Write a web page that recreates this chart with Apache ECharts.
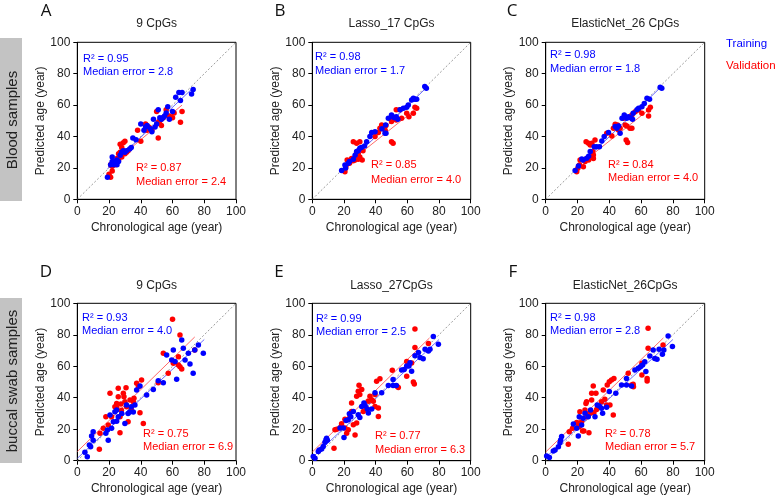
<!DOCTYPE html>
<html>
<head>
<meta charset="utf-8">
<script src="https://cdn.jsdelivr.net/npm/echarts@6/dist/echarts.min.js"></script>
<style>html,body{margin:0;padding:0;background:#fff;}#c{width:778px;height:498px;}</style>
</head>
<body>
<div id="c"></div>
<script>
// ---------- DATA ----------
const panelLetters = ['A','B','C','D','E','F'];
const panelTitles = ['9 CpGs','Lasso_17 CpGs','ElasticNet_26 CpGs','9 CpGs','Lasso_27CpGs','ElasticNet_26CpGs'];
const rowLabels = ['Blood samples','buccal swab samples'];
const legendLabels = ['Training','Validation'];
const trainR2 = ['0.95','0.98','0.98','0.93','0.99','0.98'];
const trainMedErr = ['2.8','1.7','1.8','4.0','2.5','2.8'];
const valR2 = ['0.87','0.85','0.84','0.75','0.77','0.78'];
const valMedErr = ['2.4','4.0','4.0','6.9','6.3','5.7'];
const axisTicks = [0,20,40,60,80,100];
const diag = [[0,0],[100,100]];

const aTrain = [[19,14],[21,22],[22,24],[22,27],[23,22],[24,24],[25,22],[25,25],[26,24],[27,28],[28,30],[29,31],[30,30],[31,31],[33,32],[34,33],[35,39],[37,38],[40,48],[42,44],[43,46],[44,47],[46,45],[47,43],[48,51],[49,46],[50,48],[51,57],[52,52],[53,51],[54,52],[55,53],[56,55],[57,59],[58,51],[60,56],[62,65],[64,68],[65,63],[66,68],[72,67],[73,70]];
const aVal = [[20,16],[21,14],[21,22],[22,21],[22,18],[23,23],[24,22],[25,26],[26,25],[26,29],[27,35],[27,30],[28,27],[28,33],[29,36],[29,31],[30,29],[30,37],[31,30],[32,31],[38,44],[40,37],[43,48],[44,44],[45,46],[46,45],[47,44],[50,56],[51,39],[51,49],[52,50],[53,47],[54,52],[56,57],[58,53],[60,52],[61,55],[65,49],[66,56]];
const aTrainFit = [[19,19.5],[73,71]];
const aValFit = [[20,21],[66,60]];

const bTrain = [[18.5,18.3],[20.6,21.9],[21,20],[22.7,23],[23.5,24],[25.9,25.5],[27,28],[28,30.4],[29,31],[30,32.5],[31,33],[33,34],[34.3,36.7],[36.4,40],[37.5,42.5],[39.6,43],[44,45],[45.9,42],[46.3,47.3],[46.5,42],[48,51.6],[50,53.7],[51,52.5],[52,52],[53,52.6],[54,51],[55.4,57],[57.5,58],[59.6,58.6],[60.6,60],[62.7,63.3],[63.8,64.3],[64.8,63.8],[65.9,63.7],[71,71.8],[72,70.7]];
const bVal = [[20.6,17.6],[21,19.7],[21.3,21.4],[22,25],[23.5,23],[24.8,26],[25.9,24.5],[27,25],[25.9,36.7],[28,35.7],[30,36.7],[28,30],[29,29],[30,27],[29,25.5],[31.5,25],[32,31],[39.6,40],[41.7,42.5],[42.7,45.2],[43.8,47.3],[45,45],[46,44],[46.5,47],[50,49.5],[50,36.7],[51,35.7],[53,50.5],[53,57],[55.4,57],[56.4,51.6],[59.6,54.8],[61,52.6],[63.8,54.8],[64.8,58.6],[65.9,58]];
const bTrainFit = [[18,18.5],[73,72]];
const bValFit = [[20,21],[66,58]];

const cTrain = [[18.5,18.3],[20.6,21.2],[22.7,25.7],[23.5,25],[25.8,26.1],[27,27.5],[28,30.4],[30.5,33.5],[32,33.5],[33.8,33.5],[35.3,37.2],[36.8,40],[39.5,42.5],[43.7,46.3],[44.8,45.2],[45.8,46.7],[46.8,42],[48,51.6],[49.4,53.7],[51,51.6],[52,52.6],[53.4,52],[54.6,51],[55,54.8],[57.4,57],[58.4,58],[60.5,59],[62,61],[63.7,64.3],[65.3,63.7],[72,71.3],[73,70.7]];
const cVal = [[19.5,17.6],[20.2,19.7],[21.2,21.9],[21.6,25],[23.7,20.8],[24.8,24],[25.8,26],[25.4,36.7],[26.9,35.7],[28,34.6],[29,35.7],[29.6,30.4],[30,28.2],[30,26],[31,37.8],[27,25],[38.4,42],[41.6,40.3],[42.6,45.2],[43.7,47.8],[45.2,47.3],[45.8,44.2],[46.8,45.2],[49,51.6],[50,47.3],[51,46.7],[50.6,37.8],[51.5,36.1],[53,45.2],[54.2,45.2],[54.2,53.7],[56.3,55.8],[58.4,56.9],[60.5,54.8],[64.7,56.9],[65.8,58.6],[64.7,53.1]];
const cTrainFit = [[18,18.5],[73,72]];
const cValFit = [[20,21],[66,58]];

const dTrain = [[4.8,5.3],[6.3,2.5],[7.6,10],[8.4,8.9],[9,15.7],[10,18.4],[10,13],[18,17.4],[19,19.5],[19.5,13],[20.6,29],[21.6,20.6],[22.7,24.8],[23.7,31.1],[24.8,32.2],[24.8,25],[25.8,28],[28,30],[30,23.7],[31,35.4],[32,30],[33,31],[34,34.3],[35.3,31],[36.3,35.4],[37.4,44.9],[39.5,47.5],[43.7,41.7],[47.9,45.3],[51,50.8],[54.2,49.6],[56.3,67.2],[59.5,64],[60.5,70.3],[62.6,51.7],[61.6,63],[65.8,76.7],[66.8,71.4],[67.9,64],[70,68.2],[71,61.4],[73,55.5],[74,70.3],[76.3,73.5],[79.4,68.2]];
const dVal = [[13.9,7.2],[14.3,17.4],[16.4,20.6],[18,28],[19.5,22.7],[20.6,42.8],[21.6,28],[23.7,34.3],[24.8,36.4],[24.8,34],[25.8,40.7],[25.8,46],[26.9,28],[26.9,17.8],[27.5,36],[27.8,32],[29,42.8],[29.4,40.7],[30,37.5],[30.7,46.4],[31,34.3],[32,24.8],[33.2,38.5],[34,33],[35.3,37.5],[35.7,39.6],[37.4,49.2],[38.5,47],[39.5,30.5],[40.5,51.3],[41.6,23.7],[51,49.6],[54.2,68.2],[57.3,55.5],[60,89.8],[60.5,61.9],[63.7,66.1],[63.7,60.8],[64.7,79.9],[64.7,59.7],[65.8,58.3],[74,70.3]];
const dTrainFit = [[0,1.5],[80,77]];
const dValFit = [[0,5.8],[74,78.6]];

const eTrain = [[0.6,2.6],[1.7,1.5],[3.8,5.8],[4.4,6.8],[5.9,7.5],[6.9,9],[8,11.7],[8.6,13.2],[9,14.3],[9.5,13],[17.5,20.7],[19.6,20.7],[20,14.7],[21.3,25.6],[22.7,26],[23.4,29.9],[24.3,28],[25.9,31.3],[29,29.2],[30,27.5],[31.2,34.5],[32.6,36.7],[33.3,35],[34.7,32.8],[35.4,30.3],[37.5,32.8],[39.6,43.1],[43.8,43.1],[48,47.8],[51,47.8],[51,51.6],[53,47.8],[56.4,57.6],[58,58],[59.6,60.1],[61,60.1],[61.7,62.3],[62.7,56.9],[64.8,66.7],[67,68.7],[68,65.5],[70,64.8],[71.2,70.8],[73.3,69.7],[74.3,70.8],[76.4,78.9],[79.6,74]];
const eVal = [[13.7,7.9],[14.3,19.6],[15.4,20],[17.5,21],[18.5,23.5],[20.6,20.7],[20.6,26.4],[21.7,17.5],[22.7,19.6],[23.8,28.1],[24.8,31.3],[24.8,36.7],[25.9,22.8],[27,16.4],[28,23.9],[28,41],[29,44.1],[29.5,48],[30,42],[31.2,45.2],[32.2,31.3],[34,33.5],[35.4,37.7],[36.4,41],[37.5,38.8],[38.5,37.7],[39.6,42],[40.6,50.5],[41.7,33.5],[42.7,52],[41.7,28.1],[39.6,34.5],[50.5,57.5],[53.3,47.5],[54.3,46.5],[59.6,63],[59.6,53.7],[62.7,62],[63.8,50],[64.4,48.8],[64.8,83.6],[64.8,71.9],[73.3,74.5]];
const eTrainFit = [[0,2],[80,77]];
const eValFit = [[0,5.5],[74,78]];

const fTrain = [[0.6,3],[2.3,2.1],[4.8,6.1],[5.9,6.8],[8,8.9],[9,11.4],[9.4,13.1],[10,15.3],[17.4,23.3],[19.5,20.6],[20.5,15.7],[21.1,28],[22.6,22.7],[23.6,26.9],[24.7,30.1],[26.8,28],[28.2,32.2],[31,28],[32.4,35.4],[33.7,34.7],[35.1,33.3],[35.8,30.1],[38.3,33.9],[40,43.9],[44.1,42.8],[47.7,48.1],[50.8,48.1],[50.8,52.3],[54,47.5],[56.1,57.6],[58.2,58.7],[59.6,59.7],[60.9,60.8],[62.3,62.9],[63,56.6],[65.5,66.5],[67.6,70.3],[68.6,65],[70,64.4],[71.3,70.8],[73.4,67.6],[74.3,70.3],[77,79.2],[79.7,72.5]];
const fVal = [[14.2,10.4],[14.8,18.4],[16.9,20.6],[19.5,24.2],[20.3,23.5],[21.1,21.6],[21.5,31.1],[22.6,24.8],[23.2,18.9],[24,18.9],[24.7,32.2],[25.3,36.4],[25.7,37.5],[26,28],[26.8,29.7],[27.2,17.8],[27.8,30.1],[28.9,42.8],[28.9,38.6],[29.9,47.5],[30.3,30.5],[31.6,42.8],[32,32.6],[33.7,34.3],[35.1,37.5],[36.2,44.9],[37.2,39],[38.3,35.4],[38.7,48.1],[40,50.2],[40.4,35.4],[41.4,51.3],[42.9,52.3],[42.5,29],[51.9,55.5],[54,48.1],[55.2,47],[55,48.5],[60.5,61.9],[60.5,54.4],[63.8,52.3],[63.8,50.6],[64.4,71.4],[64.4,84.1],[73.8,73.5]];
const fTrainFit = [[0,2],[80,77]];
const fValFit = [[0,5.5],[74,78]];

// ---------- LAYOUT / STYLE ----------
const trainSets = [aTrain,bTrain,cTrain,dTrain,eTrain,fTrain];
const valSets = [aVal,bVal,cVal,dVal,eVal,fVal];
const trainFits = [aTrainFit,bTrainFit,cTrainFit,dTrainFit,eTrainFit,fTrainFit];
const valFits = [aValFit,bValFit,cValFit,dValFit,eValFit,fValFit];

const BLUE = '#0000ff', RED = '#ff0000';
const FF = '"Liberation Sans", Arial, sans-serif';
const lefts = [77.3, 312.3, 545.7];
const widths = [158.7, 158.4, 159];
const tops = [42.3, 303.3];
const heights = [157, 157.4];

const grids = [], xAxes = [], yAxes = [], series = [], graphic = [];
for (let i = 0; i < 6; i++) {
  const col = i % 3, row = Math.floor(i / 3);
  grids.push({left: lefts[col], top: tops[row], width: widths[col], height: heights[row],
    show: true, borderColor: '#000', borderWidth: 1, backgroundColor: 'transparent', containLabel: false});
  xAxes.push({gridIndex: i, type: 'value', min: axisTicks[0], max: axisTicks[axisTicks.length-1], interval: 20,
    name: 'Chronological age (year)', nameLocation: 'middle', nameGap: 22,
    nameTextStyle: {color: '#222', fontSize: 12, fontFamily: FF},
    axisLine: {onZero: false, lineStyle: {color: '#000', width: 1}},
    axisTick: {show: true, inside: false, length: 4, lineStyle: {color: '#000'}},
    axisLabel: {color: '#222', fontSize: 12, margin: 6, fontFamily: FF},
    splitLine: {show: false}});
  yAxes.push({gridIndex: i, type: 'value', min: axisTicks[0], max: axisTicks[axisTicks.length-1], interval: 20,
    name: 'Predicted age (year)', nameLocation: 'middle', nameGap: 27,
    nameTextStyle: {color: '#222', fontSize: 12, fontFamily: FF},
    axisLine: {onZero: false, lineStyle: {color: '#000', width: 1}},
    axisTick: {show: true, inside: false, length: 4, lineStyle: {color: '#000'}},
    axisLabel: {color: '#222', fontSize: 12, margin: 7, fontFamily: FF},
    splitLine: {show: false}});
  series.push({type: 'line', xAxisIndex: i, yAxisIndex: i, data: diag, symbol: 'none', silent: true,
    lineStyle: {color: '#808080', width: 0.8, type: [2, 2]}, z: 1});
  series.push({type: 'line', xAxisIndex: i, yAxisIndex: i, data: trainFits[i], symbol: 'none', silent: true,
    lineStyle: {color: '#5a5aff', width: 0.9}, z: 2});
  series.push({type: 'line', xAxisIndex: i, yAxisIndex: i, data: valFits[i], symbol: 'none', silent: true,
    lineStyle: {color: '#ff5a5a', width: 0.9}, z: 2});
  series.push({type: 'scatter', xAxisIndex: i, yAxisIndex: i, data: valSets[i], symbolSize: 5.5,
    itemStyle: {color: RED, opacity: 1}, z: 3});
  series.push({type: 'scatter', xAxisIndex: i, yAxisIndex: i, data: trainSets[i], symbolSize: 5.5,
    itemStyle: {color: BLUE, opacity: 1}, z: 4});
}

function txt(x, y, text, opts) {
  opts = opts || {};
  return {type: 'text', x: x, y: y, rotation: opts.rotation || 0, z: 100,
    style: {text: text, fill: opts.fill || '#222', font: (opts.size || 12) + 'px ' + (opts.family || FF),
      textAlign: opts.align || 'left', textVerticalAlign: 'middle',
      align: opts.align || 'left', verticalAlign: 'middle'}};
}

const letterPos = [[46,11],[280,11],[512,11],[46,272],[279,272],[513,272]];
const titleY = [24, 286];
const annPos = [
  [83,59,72,136,168,182],
  [315,57,71,371,165,180],
  [550,55,69,608,165,178],
  [82,318,331,143,434,447],
  [316,319,332,375,436,450],
  [550,318,331,605,434,447]
];
for (let i = 0; i < 6; i++) {
  const col = i % 3, row = Math.floor(i / 3);
  graphic.push(txt(letterPos[i][0], letterPos[i][1], panelLetters[i], {size: 17, align: 'center', family: '"Open Sans", "Noto Sans", sans-serif', fill: '#111'}));
  graphic.push(txt(lefts[col] + widths[col] / 2, titleY[row], panelTitles[i], {size: 12, align: 'center'}));
  const p = annPos[i];
  graphic.push(txt(p[0], p[1], 'R² = ' + trainR2[i], {size: 11, fill: BLUE}));
  graphic.push(txt(p[0], p[2], 'Median error = ' + trainMedErr[i], {size: 11, fill: BLUE}));
  graphic.push(txt(p[3], p[4], 'R² = ' + valR2[i], {size: 11, fill: RED}));
  graphic.push(txt(p[3], p[5], 'Median error = ' + valMedErr[i], {size: 11, fill: RED}));
}
graphic.push({type: 'rect', shape: {x: 0, y: 38, width: 22, height: 163}, style: {fill: '#c3c3c3'}, z: 90});
graphic.push({type: 'rect', shape: {x: 0, y: 298, width: 22, height: 165}, style: {fill: '#c3c3c3'}, z: 90});
graphic.push(txt(13, 120, rowLabels[0], {size: 15, align: 'center', rotation: Math.PI / 2, fill: '#222'}));
graphic.push(txt(13, 381, rowLabels[1], {size: 15, align: 'center', rotation: Math.PI / 2, fill: '#222'}));
graphic.push(txt(726, 44, legendLabels[0], {size: 11.5, fill: BLUE}));
graphic.push(txt(726, 66, legendLabels[1], {size: 11.5, fill: RED}));

const chart = echarts.init(document.getElementById('c'), null, {renderer: 'canvas'});
chart.setOption({
  animation: false,
  backgroundColor: '#fff',
  grid: grids,
  xAxis: xAxes,
  yAxis: yAxes,
  series: series,
  graphic: graphic
});
</script>
</body>
</html>
